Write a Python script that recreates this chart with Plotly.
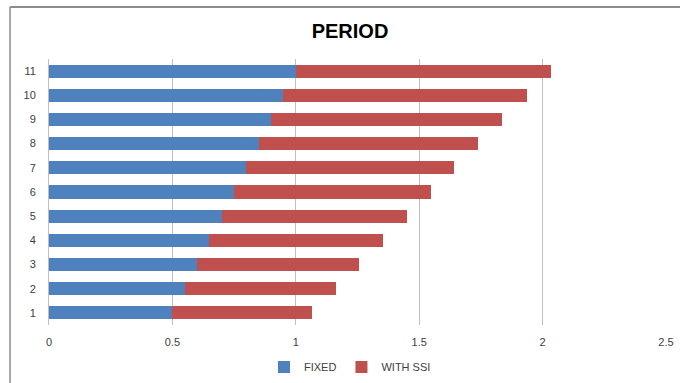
import plotly.graph_objects as go

# Period categories (bottom to top)
periods = ["1", "2", "3", "4", "5", "6", "7", "8", "9", "10", "11"]

# Fixed-base values
fixed = [0.50, 0.55, 0.60, 0.65, 0.70, 0.75, 0.80, 0.85, 0.90, 0.95, 1.00]

# Increment with soil-structure interaction (stacked on top of fixed)
with_ssi = [0.567, 0.612, 0.658, 0.704, 0.749, 0.796, 0.842, 0.890, 0.937, 0.986, 1.032]

# x-axis ticks
x_ticks = [0, 0.5, 1, 1.5, 2, 2.5]

W, H = 680, 383
L, R, T, B = 49, 14, 59, 58
pw, ph = W - L - R, H - T - B


def px(x):
    return (x - L) / pw


def py(y):
    return (H - B - y) / ph


font_family = "Liberation Sans, Arial, sans-serif"
tick_color = "#404040"

fig = go.Figure()
fig.add_trace(go.Bar(
    y=periods, x=fixed, name="FIXED", orientation="h",
    marker=dict(color="#4F81BD", line=dict(width=0)),
))
fig.add_trace(go.Bar(
    y=periods, x=with_ssi, name="WITH SSI", orientation="h",
    marker=dict(color="#C0504D", line=dict(width=0)),
))

fig.update_layout(
    width=W, height=H,
    margin=dict(l=L, r=R, t=T, b=B, pad=0, autoexpand=False),
    barmode="stack",
    bargap=0.46,
    paper_bgcolor="white",
    plot_bgcolor="white",
    font=dict(family=font_family, size=11, color=tick_color),
    title=dict(
        text="<b>PERIOD</b>",
        x=px(350), xref="paper", xanchor="center",
        y=1 - 31 / H, yref="container", yanchor="middle",
        font=dict(family=font_family, size=20, color="#000000"),
    ),
    showlegend=True,
    legend=dict(
        orientation="h",
        x=350 / W, xref="container", xanchor="center",
        y=1 - 367 / H, yref="container", yanchor="middle",
        font=dict(family=font_family, size=11, color=tick_color),
        itemwidth=30,
        traceorder="normal",
        bgcolor="rgba(0,0,0,0)",
    ),
    xaxis=dict(
        range=[0, 2.5],
        tickvals=x_ticks,
        ticktext=[f"{v:g}" for v in x_ticks],
        showgrid=True,
        gridcolor="#BEBEBE",
        gridwidth=1,
        zeroline=False,
        showline=False,
        ticks="",
        ticklabelstandoff=9,
        tickfont=dict(size=11, color=tick_color),
        automargin=False,
        fixedrange=True,
    ),
    yaxis=dict(
        type="category",
        categoryorder="array",
        categoryarray=periods,
        showgrid=False,
        zeroline=False,
        showline=True,
        linecolor="#BEBEBE",
        linewidth=1,
        ticks="",
        ticklabelstandoff=10,
        tickfont=dict(size=11, color=tick_color),
        automargin=False,
        fixedrange=True,
    ),
    shapes=[
        # chart frame: top and left edges
        dict(type="line", xref="paper", yref="paper",
             x0=px(10), x1=px(W + 5), y0=py(7), y1=py(7),
             line=dict(color="#8C8C8C", width=2)),
        dict(type="line", xref="paper", yref="paper",
             x0=px(10), x1=px(10), y0=py(7), y1=py(H + 5),
             line=dict(color="#8C8C8C", width=1.5)),
    ],
)

fig.write_html("out.html")
